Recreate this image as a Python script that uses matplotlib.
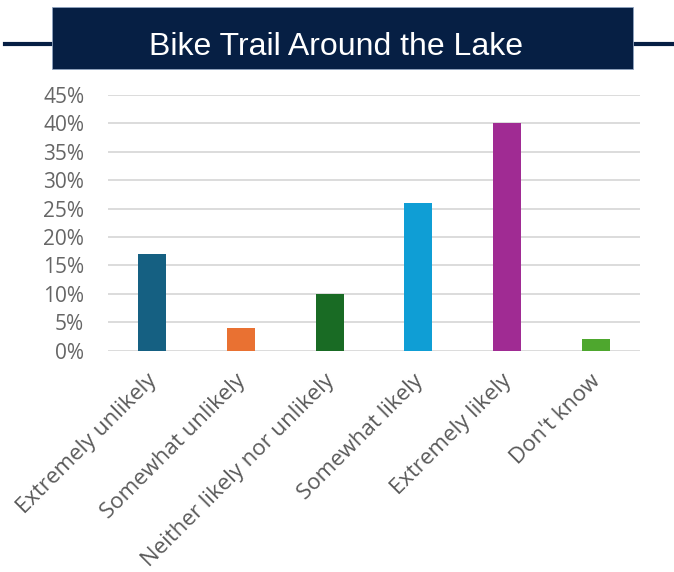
import matplotlib
matplotlib.use("Agg")
import matplotlib.pyplot as plt
import matplotlib.transforms as mtransforms
from matplotlib.patches import Rectangle
from matplotlib.lines import Line2D
from matplotlib.ticker import PercentFormatter

# %% Data
categories = ["Extremely unlikely", "Somewhat unlikely", "Neither likely nor unlikely",
              "Somewhat likely", "Extremely likely", "Don't know"]
percent = [17, 4, 10, 26, 40, 2]
y_ticks = [0, 5, 10, 15, 20, 25, 30, 35, 40, 45]

# office theme accents
bar_colors = ["#156082", "#E97132", "#196B24", "#0F9ED5", "#A02B93", "#4EA72E"]
navy = "#061F44"
label_grey = "#595959"

# %% Plot
fig = plt.figure(figsize=(6.74, 5.72), dpi=100)
ax = fig.add_axes([0.160, 0.387, 0.790, 0.447])

x = range(len(categories))
ax.bar(x, percent, width=0.315, color=bar_colors, zorder=3)

ax.set_xlim(-0.5, len(categories) - 0.5)
ax.set_ylim(0, 45)
ax.set_yticks(y_ticks)
ax.yaxis.set_major_formatter(PercentFormatter(decimals=0))
ax.grid(axis="y", color="#D9D9D9", linewidth=1.3, zorder=0)
for side in ["top", "right", "left", "bottom"]:
    ax.spines[side].set_visible(False)
ax.tick_params(length=0)
ax.tick_params(axis="y", pad=17, labelsize=15, labelcolor="#666666")
for lab in ax.get_yticklabels():
    lab.set_fontfamily("Open Sans")

ax.set_xticks(list(x))
ax.set_xticklabels(categories, rotation=45, ha="right", rotation_mode="anchor",
                   fontsize=16, color=label_grey, fontfamily="Open Sans")
ax.tick_params(axis="x", pad=14)
# nudge the slanted labels a few pixels left, like the original
nudge = mtransforms.ScaledTranslation(-6 / 100, 0, fig.dpi_scale_trans)
for lab in ax.get_xticklabels():
    lab.set_transform(lab.get_transform() + nudge)

# title banner with the rule behind it
fig.add_artist(Line2D([0.007, 1.0], [0.923, 0.923], transform=fig.transFigure,
                      color=navy, linewidth=3, zorder=1))
fig.add_artist(Rectangle((0.0772, 0.8794), 0.8618, 0.1084, transform=fig.transFigure,
                         facecolor=navy, edgecolor="#8FA3BF", linewidth=0.6, zorder=2))
fig.text(0.4985, 0.9038, "Bike Trail Around the Lake", color="white", fontsize=23,
         fontfamily="Liberation Sans", ha="center", va="baseline", zorder=3)

fig.savefig("out.png", dpi=100)
